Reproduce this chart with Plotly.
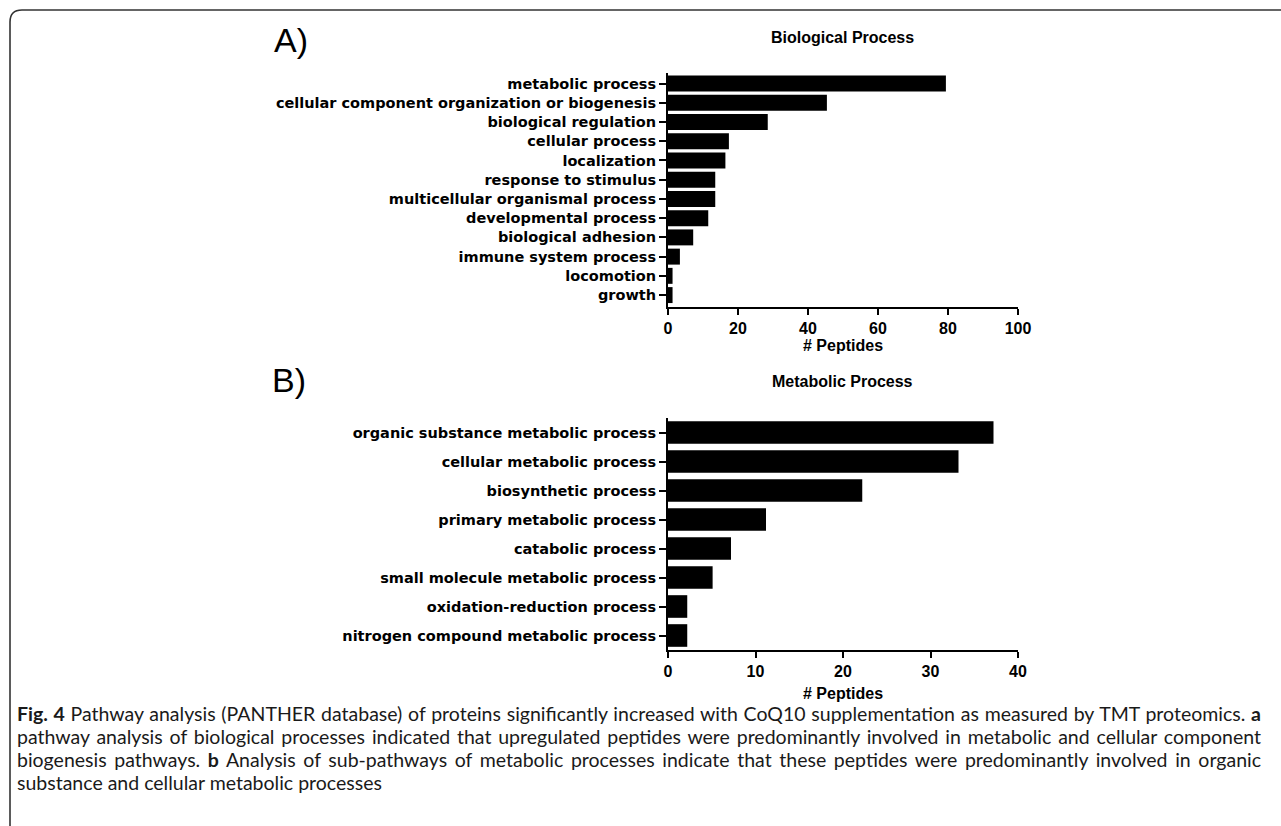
import plotly.graph_objects as go

# ---------------- data ----------------
bp_title = "Biological Process"
bp_categories = [
    "metabolic process",
    "cellular component organization or biogenesis",
    "biological regulation",
    "cellular process",
    "localization",
    "response to stimulus",
    "multicellular organismal process",
    "developmental process",
    "biological adhesion",
    "immune system process",
    "locomotion",
    "growth",
]
bp_values = [79.4, 45.4, 28.5, 17.4, 16.4, 13.5, 13.5, 11.5, 7.2, 3.4, 1.3, 1.3]
bp_ticks = [0, 20, 40, 60, 80, 100]

mp_title = "Metabolic Process"
mp_categories = [
    "organic substance metabolic process",
    "cellular metabolic process",
    "biosynthetic process",
    "primary metabolic process",
    "catabolic process",
    "small molecule metabolic process",
    "oxidation-reduction process",
    "nitrogen compound metabolic process",
]
mp_values = [37.2, 33.2, 22.2, 11.2, 7.2, 5.1, 2.2, 2.2]
mp_ticks = [0, 10, 20, 30, 40]

x_title = "# Peptides"
caption_lines = [
    "<b>Fig. 4</b> Pathway analysis (PANTHER database) of proteins significantly increased with CoQ10 supplementation as measured by TMT proteomics. <b>a</b>",
    "pathway analysis of biological processes indicated that upregulated peptides were predominantly involved in metabolic and cellular component",
    "biogenesis pathways. <b>b</b> Analysis of sub-pathways of metabolic processes indicate that these peptides were predominantly involved in organic",
    "substance and cellular metabolic processes",
]

# ---------------- layout helpers ----------------
W, H = 1281, 826


def px(x):
    return x / W


def py(y):
    return 1 - y / H


LAB_FONT = dict(family="DejaVu Sans", size=14.5, color="black", weight="bold")
NUM_FONT = dict(family="Liberation Sans, Arial", size=16, color="black", weight="bold")

fig = go.Figure()
fig.add_trace(go.Bar(x=bp_values, y=bp_categories, orientation="h", width=0.83,
                     marker=dict(color="black", line=dict(width=0)),
                     xaxis="x", yaxis="y", showlegend=False, hoverinfo="skip"))
fig.add_trace(go.Bar(x=mp_values, y=mp_categories, orientation="h", width=0.78,
                     marker=dict(color="black", line=dict(width=0)),
                     xaxis="x2", yaxis="y2", showlegend=False, hoverinfo="skip"))

axis_common = dict(showline=True, linecolor="black", linewidth=2, ticks="outside",
                   tickwidth=2, tickcolor="black", showgrid=False,
                   zeroline=False, fixedrange=True, automargin=False)

fig.update_layout(
    template="none",
    width=W, height=H, autosize=False,
    margin=dict(l=0, r=0, t=0, b=0, pad=0),
    paper_bgcolor="white", plot_bgcolor="white",
    xaxis=dict(domain=[px(668), px(1018)], range=[0, 100], tickvals=bp_ticks,
               tickfont=NUM_FONT, anchor="y", ticklen=6, **axis_common),
    yaxis=dict(domain=[py(307), py(73)], range=[11.62, -0.55], type="category",
               tickfont=LAB_FONT, anchor="x", ticklen=7, **axis_common),
    xaxis2=dict(domain=[px(668), px(1018)], range=[0, 40], tickvals=mp_ticks,
                tickfont=NUM_FONT, anchor="y2", ticklen=6, **axis_common),
    yaxis2=dict(domain=[py(650), py(418)], range=[7.5, -0.5], type="category",
                tickfont=LAB_FONT, anchor="x2", ticklen=7, **axis_common),
)

TITLE_FONT = dict(family="Liberation Sans, Arial", size=16, color="black", weight="bold")
PANEL_FONT = dict(family="Liberation Sans, Arial", size=34, color="black")
ann = []
ann.append(dict(text=bp_title, x=px(843), y=py(37), font=TITLE_FONT))
ann.append(dict(text=mp_title, x=px(843), y=py(381), font=TITLE_FONT))
ann.append(dict(text="A)", x=px(291), y=py(40), font=PANEL_FONT))
ann.append(dict(text="B)", x=px(289), y=py(380), font=PANEL_FONT))
ann.append(dict(text=x_title, x=px(843), y=py(346), font=NUM_FONT))
ann.append(dict(text=x_title, x=px(843), y=py(693), font=NUM_FONT))
for a in ann:
    a.update(xref="paper", yref="paper", showarrow=False, xanchor="center", yanchor="middle")

cap_start = len(ann)
cap_y = [713, 736, 759, 782]
for line, yy in zip(caption_lines, cap_y):
    ann.append(dict(text=line, x=px(15), y=py(yy), xref="paper", yref="paper", showarrow=False,
                    xanchor="left", yanchor="middle", align="left",
                    font=dict(family="Lato", size=19.5, color="#1a1a1a")))
fig.update_layout(annotations=ann)

# frame: rounded top-left corner, top and left edges
path = "M {:.5f},{:.5f} L {:.5f},{:.5f} Q {:.5f},{:.5f} {:.5f},{:.5f} L {:.5f},{:.5f}".format(
    px(10), py(826), px(10), py(22), px(10), py(10), px(22), py(10), px(1281), py(10))
fig.add_shape(type="path", path=path, xref="paper", yref="paper",
              line=dict(color="#333333", width=1.6))

# justified caption lines (first three lines span the full text column)
just_idx = [cap_start, cap_start + 1, cap_start + 2]
just_width = 1244
js = (
    "var gd=document.getElementById('{plot_id}');"
    "document.documentElement.style.margin='0';document.body.style.margin='0';"
    "document.body.style.overflow='hidden';"
    "var JI=" + str(just_idx) + ";var JW=" + str(just_width) + ";"
    "function justify(){"
    " gd.querySelectorAll('g.annotation').forEach(function(g){"
    "  var idx=+g.getAttribute('data-index'); if(JI.indexOf(idx)<0) return;"
    "  var t=g.querySelector('text.annotation-text'); if(!t) return;"
    "  t.style.wordSpacing='0px'; var len=t.getComputedTextLength();"
    "  var n=(t.textContent.match(/ /g)||[]).length;"
    "  if(n>0){ t.style.wordSpacing=((JW-len)/n)+'px'; }"
    " });"
    "}"
    "Plotly.relayout(gd,{width:" + str(W) + ",height:" + str(H) + "}).then(justify);"
)

fig.write_html("out.html", config={"displayModeBar": False, "responsive": False},
               post_script=js)
